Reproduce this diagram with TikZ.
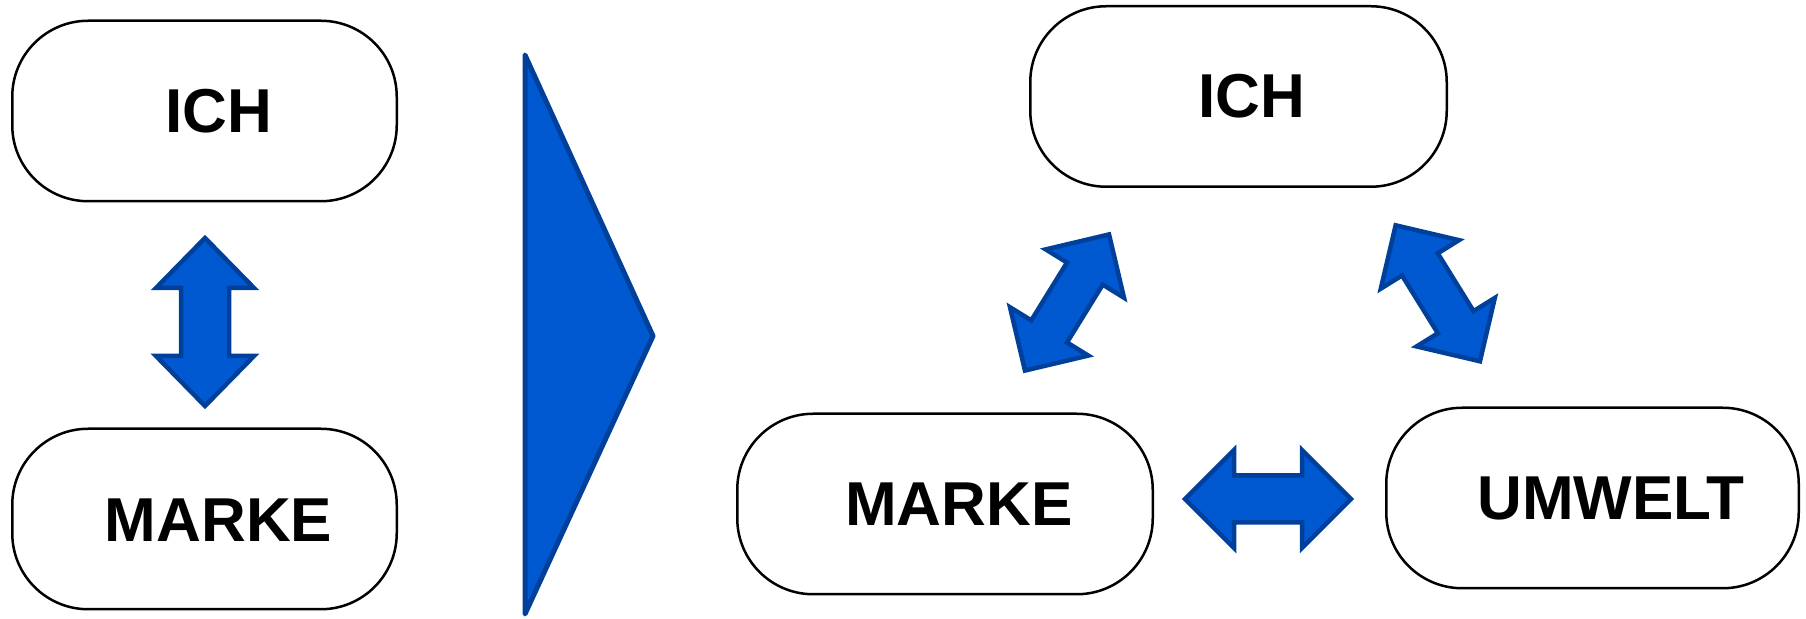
\documentclass[tikz,border=0pt]{standalone}
\usepackage{fontspec}
\setmainfont{Liberation Sans}
\definecolor{afill}{RGB}{0,89,208}
\definecolor{aline}{RGB}{0,64,154}
\newcommand{\dblarr}[7]{% center x, center y, angle, half length, head length, head half width, shaft half width
  \draw[blockarrow, shift={(#1,#2)}, rotate=#3]
    (-#4,0) -- (-#4+#5,#6) -- (-#4+#5,#7) -- (#4-#5,#7) -- (#4-#5,#6) -- (#4,0)
    -- (#4-#5,-#6) -- (#4-#5,-#7) -- (-#4+#5,-#7) -- (-#4+#5,-#6) -- cycle;}
\begin{document}
\begin{tikzpicture}[x=0.5pt,y=0.5pt,
  pill/.style={draw=black, line width=1.25pt, rounded corners=38pt, minimum height=90.25pt, inner sep=0pt},
  lbl/.style={font=\fontsize{31}{37}\selectfont\bfseries, inner sep=0pt},
  blockarrow/.style={fill=afill, draw=aline, line width=2.25pt, line join=miter},
]
\useasboundingbox (0,0) rectangle (1806,-619);
% left column
\node[pill, minimum width=192.25pt] (ichL) at (204.5,-111) {};
\node[lbl] (ichLt) at (218.5,-111) {ICH};
\node[pill, minimum width=192.25pt] (markeL) at (204.5,-519) {};
\node[lbl] (markeLt) at (218.5,-520) {MARKE};
\dblarr{205}{-322}{90}{84}{50}{49}{24}
% big triangle
\draw[fill=afill, draw=aline, line width=2.5pt, line join=round] (525,-55) -- (653,-336) -- (525,-614) -- cycle;
% right group
\node[pill, minimum width=208.25pt] (ichR) at (1238.5,-96.5) {};
\node[lbl] (ichRt) at (1251.5,-96.5) {ICH};
\node[pill, minimum width=207.75pt] (markeR) at (945,-504) {};
\node[lbl] (markeRt) at (959,-504) {MARKE};
\node[pill, minimum width=206.25pt] (umwelt) at (1592.5,-498) {};
\node[lbl] (umweltt) at (1611,-498) {UMWELT};
\dblarr{1268}{-499}{0}{83}{49}{49}{23.5}
\dblarr{1067}{-302.5}{58.3}{80}{46}{46}{21}
\dblarr{1437.8}{-293.3}{-58.2}{80}{46}{46}{21}
\end{tikzpicture}
\end{document}
